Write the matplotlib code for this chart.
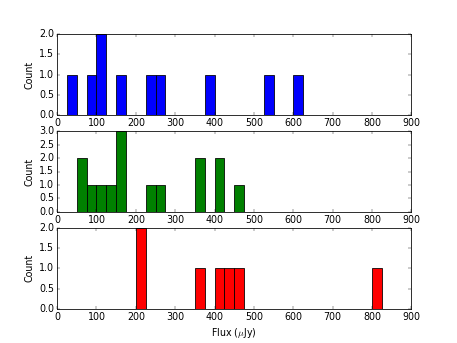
import numpy as np
import matplotlib
matplotlib.use('Agg')
import matplotlib.pyplot as plt

plt.style.use('classic')

# flux values (uJy), one entry per source
flux_blue = [37, 88, 105, 118, 162, 237, 262, 388, 537, 612]
flux_green = [55, 68, 88, 112, 137, 155, 162, 170, 237, 262,
              355, 368, 405, 418, 462]
flux_red = [205, 218, 362, 412, 437, 462, 812]

bins = np.arange(0, 925, 25)
colors = ['b', 'g', 'r']

fig = plt.figure(figsize=(8, 343 / 57.125), dpi=57.125)
for i, (data, c) in enumerate(zip([flux_blue, flux_green, flux_red], colors)):
    ax = fig.add_subplot(3, 1, i + 1)
    ax.hist(data, bins=bins, color=c)
    ax.set_xlim(0, 900)
    ax.set_ylabel('Count')
    if i == 2:
        ax.set_xlabel(r'Flux ($\mu$Jy)')

fig.savefig('out.png', dpi=57.125)
